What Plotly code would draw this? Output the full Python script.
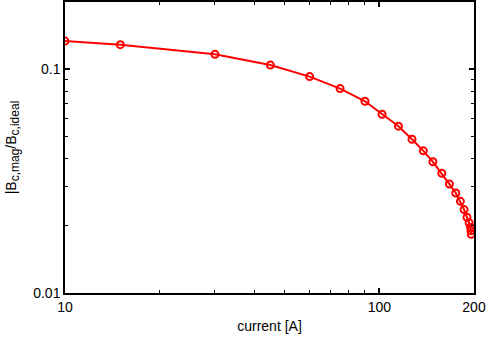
import plotly.graph_objects as go

# current [A] and field ratio |Bc,mag/Bc,ideal|
current = [10, 15, 30, 45, 60, 75, 90, 102, 115, 127, 138, 148, 158, 167, 175,
           181, 186, 190, 193, 195, 195.5, 196]
ratio = [0.1337, 0.1289, 0.1167, 0.1045, 0.0928, 0.0820, 0.0720, 0.0630, 0.0557,
         0.0487, 0.0432, 0.0386, 0.0343, 0.0307, 0.0280, 0.0257, 0.0236, 0.0218,
         0.0206, 0.0197, 0.0190, 0.0183]

x_major = [10, 100, 200]
x_minor = [20, 30, 40, 50, 60, 70, 80, 90]
y_major = [0.01, 0.1]
y_minor = [0.02, 0.03, 0.04, 0.05, 0.06, 0.07, 0.08, 0.09, 0.2]

font = dict(family="Liberation Sans, Arial, sans-serif", size=14, color="black")

fig = go.Figure()
fig.add_trace(go.Scatter(
    x=current, y=ratio, mode="lines+markers",
    line=dict(color="#ff0000", width=2),
    marker=dict(symbol="circle-open", size=7, color="#ff0000", line=dict(width=2)),
    showlegend=False,
))

axis_common = dict(
    type="log", showgrid=False, zeroline=False, automargin=False,
    showline=True, linecolor="black", linewidth=1.5, mirror="ticks",
    ticks="inside", ticklen=5, tickwidth=1.5, tickcolor="black",
    tickfont=font,
)

sub = "<sub><span style='font-size:12px'>{}</span></sub>"
ytitle = "|B" + sub.format("c,mag") + "/B" + sub.format("c,ideal")

fig.update_layout(
    width=491, height=341,
    margin=dict(l=65, r=17, t=2, b=48),
    paper_bgcolor="white", plot_bgcolor="white",
    font=font,
    xaxis=dict(
        axis_common,
        range=[1, 2.30103],
        tickvals=x_major, ticktext=[str(v) for v in x_major],
        minor=dict(tickvals=x_minor, ticks="inside", ticklen=3, tickcolor="black", tickwidth=1),
        title=dict(text="current [A]", font=font, standoff=8),
    ),
    yaxis=dict(
        axis_common,
        range=[-2, -0.69897],
        tickvals=y_major, ticktext=["0.01", "0.1"],
        minor=dict(tickvals=y_minor, ticks="inside", ticklen=3, tickcolor="black", tickwidth=1),
        title=dict(text=ytitle, font=font, standoff=13),
    ),
)

# drop the default page margin so the figure sits at the window's corner
fig.write_html("out.html", config={"displayModeBar": False},
               post_script="document.body.style.margin='0';")
